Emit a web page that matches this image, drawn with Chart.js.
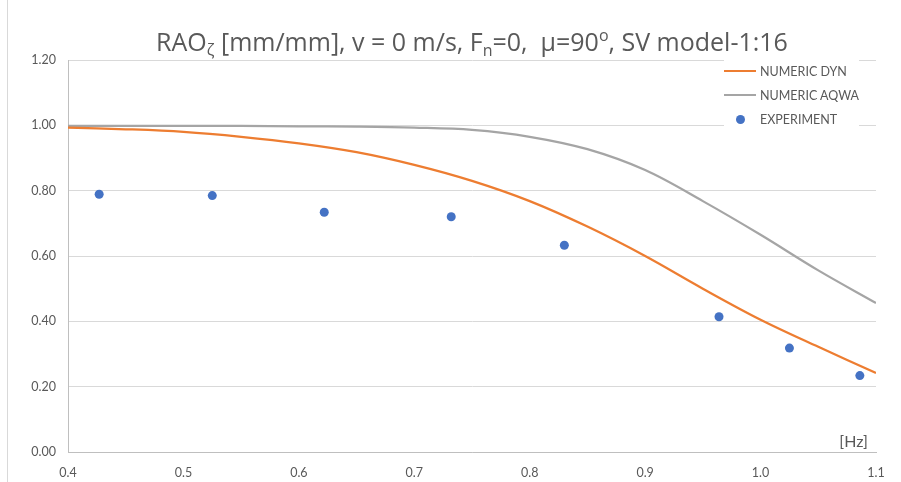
<!DOCTYPE html>
<html>
<head>
<meta charset="utf-8">
<script src="https://cdn.jsdelivr.net/npm/chart.js"></script>
<style>
  body { margin: 0; background: #fff; font-family: Lato, "Open Sans", sans-serif; }
  .wrap { position: relative; width: 901px; height: 482px; overflow: hidden; }
  .frame { position: absolute; left: 7px; top: 0; width: 1px; height: 482px; background: #d9d9d9; }
  canvas { position: absolute; left: 0; top: 0; }
  .title {
    position: absolute; left: 68px; width: 808px; top: 24px;
    text-align: center; font-family: "Open Sans", Lato, sans-serif; font-size: 25px;
    color: #595959; white-space: nowrap;
  }
  .title sub { font-size: 16px; vertical-align: -5px; line-height: 0; }
  .title sup { font-size: 16px; vertical-align: 10px; line-height: 0; }
  .legend { position: absolute; left: 724px; top: 59px; background: #fff; font-size: 12.5px; color: #595959; }
  .legend div { height: 24px; display: flex; align-items: center; }
  .legend .mark { width: 32px; margin-right: 4px; display: flex; justify-content: center; align-items: center; }
</style>
</head>
<body>
<div class="wrap">
  <div class="frame"></div>
  <canvas id="rao" width="901" height="482"></canvas>
  <div class="title">RAO<sub>ζ</sub> [mm/mm], v = 0 m/s, F<sub>n</sub>=0,&nbsp; μ=90<sup>o</sup>, SV model-1:16</div>
  <div class="legend" id="legend"></div>
</div>

<script>
// frequency grid for the numeric curves [Hz]
const freqModel = [0.40, 0.45, 0.50, 0.55, 0.60, 0.65, 0.70, 0.75, 0.80, 0.85, 0.90, 0.95, 1.00, 1.05, 1.10];
const dynValues = [0.993, 0.988, 0.980, 0.965, 0.945, 0.918, 0.879, 0.830, 0.768, 0.690, 0.600, 0.500, 0.405, 0.322, 0.242];
const aqwaValues = [0.998, 0.998, 0.998, 0.998, 0.997, 0.996, 0.993, 0.986, 0.965, 0.927, 0.863, 0.768, 0.665, 0.556, 0.456];

// experiment points
const expFreq = [0.427, 0.525, 0.622, 0.732, 0.830, 0.964, 1.025, 1.086];
const expValues = [0.789, 0.785, 0.734, 0.720, 0.633, 0.414, 0.318, 0.234];

const seriesNames = ["NUMERIC DYN", "NUMERIC AQWA", "EXPERIMENT"];
const seriesColors = ["#ED7D31", "#A5A5A5", "#4472C4"];

const toPoints = (xs, ys) => xs.map((x, i) => ({ x: x, y: ys[i] }));

const tickFont = { family: "Lato, 'Open Sans', sans-serif", size: 12.5 };

// [Hz] label inside the plot, bottom right
const hzLabel = {
  id: "hzLabel",
  afterDraw(chart) {
    const { ctx, chartArea } = chart;
    ctx.save();
    ctx.font = "16px Lato, 'Open Sans', sans-serif";
    ctx.fillStyle = "#595959";
    ctx.textAlign = "right";
    ctx.textBaseline = "middle";
    ctx.fillText("[Hz]", chartArea.right - 8, chartArea.bottom - 10);
    ctx.restore();
  }
};

const chart = new Chart(document.getElementById("rao"), {
  type: "scatter",
  data: {
    datasets: [
      {
        label: seriesNames[0],
        data: toPoints(freqModel, dynValues),
        showLine: true,
        borderColor: seriesColors[0],
        borderWidth: 2.25,
        pointRadius: 0,
        tension: 0.35,
        order: 2
      },
      {
        label: seriesNames[1],
        data: toPoints(freqModel, aqwaValues),
        showLine: true,
        borderColor: seriesColors[1],
        borderWidth: 2.25,
        pointRadius: 0,
        tension: 0.35,
        order: 3
      },
      {
        label: seriesNames[2],
        data: toPoints(expFreq, expValues),
        showLine: false,
        backgroundColor: seriesColors[2],
        borderColor: seriesColors[2],
        pointRadius: 4.5,
        pointBorderWidth: 0,
        order: 1
      }
    ]
  },
  options: {
    responsive: false,
    animation: false,
    layout: { padding: { top: 60, right: 25, left: 0, bottom: 0 } },
    plugins: {
      legend: { display: false },
      tooltip: { enabled: false },
      title: { display: false }
    },
    scales: {
      x: {
        type: "linear",
        min: 0.4,
        max: 1.1,
        afterFit: (s) => { s.height = 30; },
        afterBuildTicks: (s) => {
          s.ticks = [0.4, 0.5, 0.6, 0.7, 0.8, 0.9, 1.0, 1.1].map((v) => ({ value: v }));
        },
        grid: { display: false },
        border: { display: true, color: "#bfbfbf", width: 1 },
        ticks: {
          color: "#595959",
          font: tickFont,
          padding: 5,
          maxRotation: 0,
          callback: (v) => Number(v).toFixed(1)
        }
      },
      y: {
        min: 0,
        max: 1.2,
        afterFit: (s) => { s.width = 68; },
        grid: { color: "#d9d9d9", drawTicks: false },
        border: { display: true, color: "#bfbfbf", width: 1 },
        ticks: {
          stepSize: 0.2,
          color: "#595959",
          font: tickFont,
          padding: 12,
          callback: (v) => Number(v).toFixed(2)
        }
      }
    }
  },
  plugins: [hzLabel]
});

// legend built from the datasets
const legendBox = document.getElementById("legend");
chart.data.datasets.forEach((ds) => {
  const row = document.createElement("div");
  const mark = document.createElement("span");
  mark.className = "mark";
  const sym = document.createElement("span");
  if (ds.showLine) {
    sym.style.cssText = "display:block;width:32px;height:2px;background:" + ds.borderColor;
  } else {
    sym.style.cssText = "display:block;width:9px;height:9px;border-radius:50%;background:" + ds.backgroundColor;
  }
  mark.appendChild(sym);
  row.appendChild(mark);
  row.appendChild(document.createTextNode(ds.label));
  legendBox.appendChild(row);
});
</script>
</body>
</html>
